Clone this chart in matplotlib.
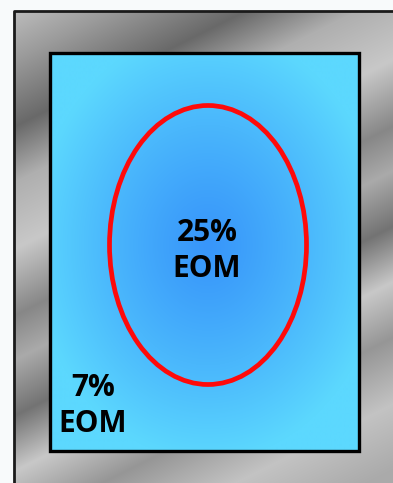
import matplotlib.pyplot as plt
import numpy as np
from matplotlib.patches import Rectangle, Ellipse

# labels and where they sit (pixel coords of the picture)
labels = ["25%", "EOM", "7%", "EOM"]
label_x = [207, 207, 93, 93]
label_base = [241, 277, 396, 432]

W, H = 393, 483
fig = plt.figure(figsize=(W / 100, H / 100), dpi=100)
fig.patch.set_facecolor("#f8fafb")
ax = fig.add_axes([0, 0, 1, 1])
ax.set_xlim(0, W)
ax.set_ylim(H, 0)
ax.axis("off")

# brushed metal frame: diagonal light/dark bands
x0, y0 = 14, 11
xs = np.arange(x0, W + 1)
ys = np.arange(y0, H + 1)
X, Y = np.meshgrid(xs, ys)
s = X * 0.45 + Y * 0.9
stops = [0, 60, 120, 170, 230, 290, 330, 380, 430, 480, 540, 600]
grays = [200, 155, 105, 175, 200, 135, 170, 115, 200, 150, 195, 170]
g = np.interp(s, stops, grays) / 255.0
metal = np.dstack([g, g, g])
ax.imshow(metal, extent=(x0, W + 1, H + 1, y0), interpolation="bilinear", zorder=1)
ax.plot([x0, x0, W + 2], [H + 2, y0, y0], color="#1a1a1a", lw=2.0, zorder=2)

# blue panel with radial gradient
rx0, ry0, rx1, ry1 = 50, 53, 359, 451
cx, cy = 208, 245
px = np.arange(rx0, rx1 + 1)
py = np.arange(ry0, ry1 + 1)
PX, PY = np.meshgrid(px, py)
d = np.sqrt(((PX - cx) / 175.0) ** 2 + ((PY - cy) / 215.0) ** 2)
t = np.clip(d, 0, 1) ** 1.2
c_in = np.array([56, 150, 250]) / 255.0
c_out = np.array([92, 216, 254]) / 255.0
blue = c_in[None, None, :] * (1 - t[..., None]) + c_out[None, None, :] * t[..., None]
ax.imshow(blue, extent=(rx0, rx1, ry1, ry0), interpolation="bilinear", zorder=3)
ax.add_patch(Rectangle((rx0, ry0), rx1 - rx0, ry1 - ry0, fill=False,
                       edgecolor="black", lw=2.4, zorder=4))

# red ellipse
ax.add_patch(Ellipse((cx, cy), 197, 279, fill=False, edgecolor="#ff0a0a",
                     lw=3.4, zorder=5))

for lab, lx, ly in zip(labels, label_x, label_base):
    ax.text(lx, ly, lab, ha="center", va="baseline", fontsize=21.5,
            fontweight="bold", family="Open Sans", color="black", zorder=6)

fig.savefig("out.png", dpi=100, facecolor=fig.get_facecolor())
